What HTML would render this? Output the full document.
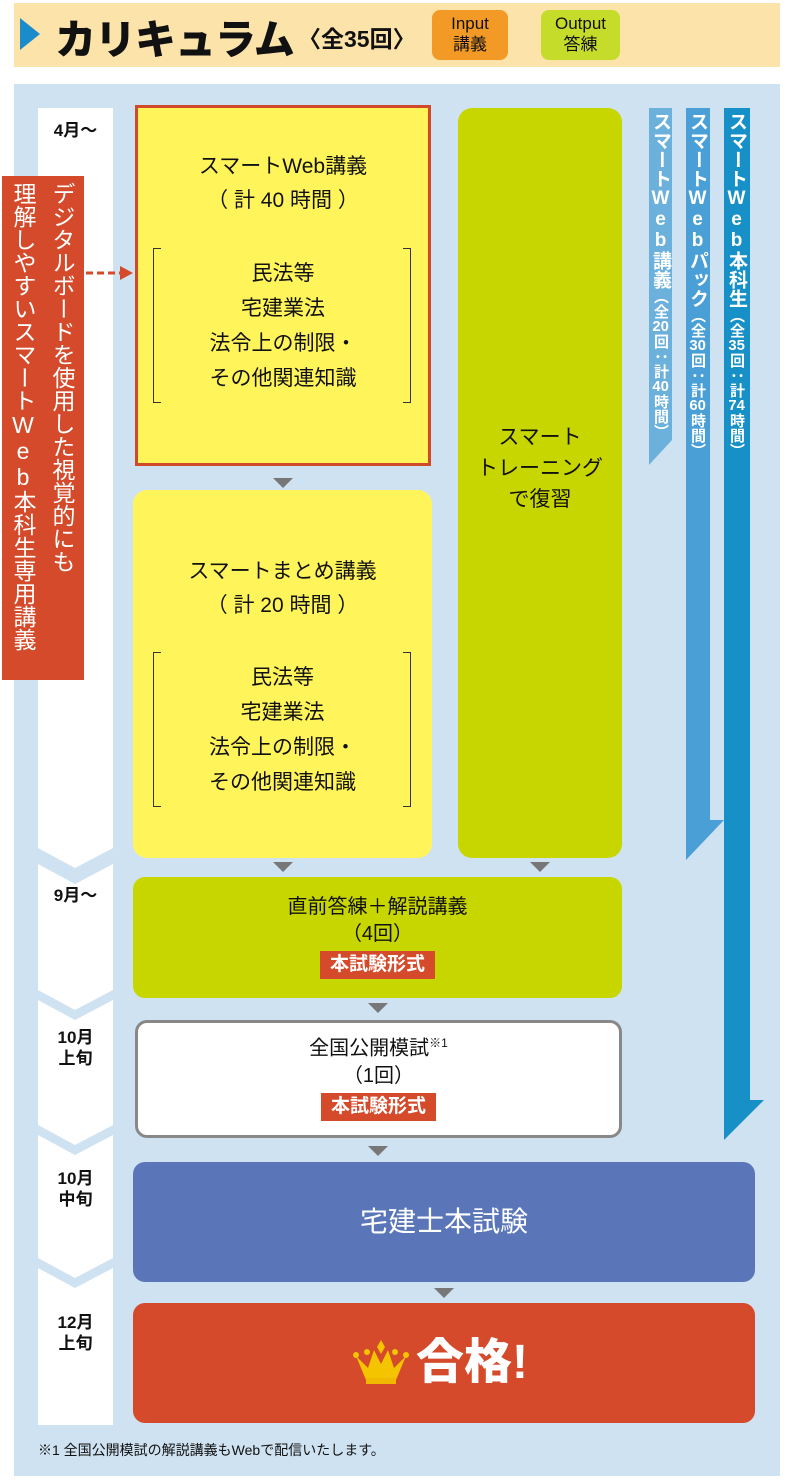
<!DOCTYPE html>
<html><head><meta charset="utf-8"><style>
*{margin:0;padding:0;box-sizing:border-box}
body{width:800px;height:1483px;background:#fff;position:relative;overflow:hidden;font-family:"Liberation Sans","Noto Sans CJK JP",sans-serif;color:#111}
.a{position:absolute}
.c{text-align:center}
.vt{writing-mode:vertical-rl;text-orientation:upright;color:#fff;white-space:nowrap}
.tc{text-combine-upright:all}
.lab{font-weight:bold;font-size:17px;text-align:center;width:75px;left:38px;line-height:21px}
.tag{background:#d44a2a;color:#fff;font-weight:bold;font-size:19px;padding:0 10px;display:inline-block;line-height:28px}
</style></head><body>
<div class="a" style="left:14px;top:3px;width:766px;height:64px;background:#fce3aa"></div>
<svg class="a" style="left:0;top:0" width="800" height="1483">
<polygon points="20,18 40,34 20,50" fill="#1a8ccc"/>
<rect x="14" y="84" width="766" height="1392" fill="#cfe2f1"/>
<polygon points="38,108 113,108 113,848 75,868 38,848" fill="#fff"/>
<polygon points="38,864 75,884 113,864 113,990 75,1010 38,990" fill="#fff"/>
<polygon points="38,1000 75,1020 113,1000 113,1125 75,1145 38,1125" fill="#fff"/>
<polygon points="38,1135 75,1155 113,1135 113,1258 75,1278 38,1258" fill="#fff"/>
<polygon points="38,1268 75,1288 113,1268 113,1425 38,1425" fill="#fff"/>
<polygon points="649,108 672,108 672,440 649,465" fill="#6cb0dc"/>
<polygon points="686,108 710,108 710,820 724,820 686,860" fill="#4aa0d6"/>
<polygon points="724,108 750,108 750,1100 764,1100 724,1140" fill="#1790c8"/>
<g fill="#777">
<polygon points="273,478 293,478 283,488"/>
<polygon points="273,862 293,862 283,872"/>
<polygon points="530,862 550,862 540,872"/>
<polygon points="368,1003 388,1003 378,1013"/>
<polygon points="368,1146 388,1146 378,1156"/>
<polygon points="434,1288 454,1288 444,1298"/>
</g>
<line x1="86" y1="273" x2="122" y2="273" stroke="#d44a2a" stroke-width="3" stroke-dasharray="7,4"/>
<polygon points="120,266 133,273 120,280" fill="#d44a2a"/>
</svg>
<div class="a" style="left:55px;top:6px;font-size:41px;font-weight:900;letter-spacing:-1px">カリキュラム</div>
<div class="a" style="left:298px;top:20px;font-size:23px;font-weight:bold">〈全35回〉</div>
<div class="a c" style="left:432px;top:10px;width:76px;height:50px;background:#f39a26;border-radius:8px;font-size:17px;line-height:21px;padding-top:3px">Input<br>講義</div>
<div class="a c" style="left:541px;top:10px;width:79px;height:50px;background:#c5dc2a;border-radius:8px;font-size:17px;line-height:21px;padding-top:3px">Output<br>答練</div>

<div class="a lab" style="top:120px">4月～</div>
<div class="a lab" style="top:885px">9月～</div>
<div class="a lab" style="top:1027px">10月<br>上旬</div>
<div class="a lab" style="top:1168px">10月<br>中旬</div>
<div class="a lab" style="top:1312px">12月<br>上旬</div>

<div class="a" style="left:2px;top:176px;width:82px;height:504px;background:#d44a2a"></div>
<div class="a vt" style="left:47px;top:182px;font-size:23px;line-height:29px;text-orientation:mixed">デジタルボードを使用した視覚的にも</div>
<div class="a vt" style="left:8px;top:182px;font-size:23px;line-height:29px">理解しやすいスマートWeb本科生専用講義</div>

<div class="a" style="left:135px;top:105px;width:296px;height:361px;background:#fff55a;border:3px solid #d04a2a"></div>
<div class="a" style="left:133px;top:490px;width:299px;height:368px;background:#fff55a;border-radius:14px"></div>
<div class="a" style="left:458px;top:108px;width:164px;height:750px;background:#c8d600;border-radius:14px"></div>

<div class="a c" style="left:135px;top:150px;width:296px;font-size:21px;line-height:34px">スマートWeb講義<br>（ 計 40 時間 ）</div>
<div class="a" style="left:153px;top:248px;width:258px;height:155px;border:1px solid #333;border-top:none;border-bottom:none"></div>
<div class="a" style="left:153px;top:248px;width:8px;height:155px;border-top:1px solid #333;border-bottom:1px solid #333"></div>
<div class="a" style="left:403px;top:248px;width:8px;height:155px;border-top:1px solid #333;border-bottom:1px solid #333"></div>
<div class="a c" style="left:135px;top:256px;width:296px;font-size:21px;line-height:35px">民法等<br>宅建業法<br>法令上の制限・<br>その他関連知識</div>

<div class="a c" style="left:133px;top:555px;width:299px;font-size:21px;line-height:34px">スマートまとめ講義<br>（ 計 20 時間 ）</div>
<div class="a" style="left:153px;top:652px;width:258px;height:155px;border:1px solid #333;border-top:none;border-bottom:none"></div>
<div class="a" style="left:153px;top:652px;width:8px;height:155px;border-top:1px solid #333;border-bottom:1px solid #333"></div>
<div class="a" style="left:403px;top:652px;width:8px;height:155px;border-top:1px solid #333;border-bottom:1px solid #333"></div>
<div class="a c" style="left:133px;top:660px;width:299px;font-size:21px;line-height:35px">民法等<br>宅建業法<br>法令上の制限・<br>その他関連知識</div>

<div class="a c" style="left:458px;top:422px;width:164px;font-size:21px;line-height:31px">スマート<br>トレーニング<br>で復習</div>

<div class="a vt" style="left:650px;top:112px;font-size:19px;font-weight:bold;line-height:21px">スマートWeb講義<span style="font-size:15px">（全<span class="tc">20</span>回：計<span class="tc">40</span>時間）</span></div>
<div class="a vt" style="left:687px;top:112px;font-size:19px;font-weight:bold;line-height:21px">スマートWebパック<span style="font-size:15px">（全<span class="tc">30</span>回：計<span class="tc">60</span>時間）</span></div>
<div class="a vt" style="left:726px;top:112px;font-size:19px;font-weight:bold;line-height:21px">スマートWeb本科生<span style="font-size:15px">（全<span class="tc">35</span>回：計<span class="tc">74</span>時間）</span></div>

<div class="a c" style="left:133px;top:877px;width:489px;height:121px;background:#c8d600;border-radius:12px;font-size:20px;line-height:27px;padding-top:17px">直前答練＋解説講義<br>（4回）<br><span class="tag" style="margin-top:3px">本試験形式</span></div>
<div class="a c" style="left:135px;top:1020px;width:487px;height:118px;background:#fff;border:3px solid #888;border-radius:12px;font-size:20px;line-height:27px;padding-top:7px">全国公開模試<sup style="font-size:12px">※1</sup><br>（1回）<br><span class="tag" style="margin-top:3px">本試験形式</span></div>
<div class="a c" style="left:133px;top:1162px;width:622px;height:120px;background:#5a76b9;border-radius:12px;color:#fff;font-size:28px;line-height:120px">宅建士本試験</div>
<div class="a" style="left:133px;top:1303px;width:622px;height:120px;background:#d44a2a;border-radius:12px"></div>
<svg class="a" style="left:352px;top:1340px" width="58" height="48"><polygon points="4,16 14,40 44,40 54,16 42,28 36,10 29,24 22,10 16,28" fill="#f5c400"/><polygon points="29,0 33,7 29,14 25,7" fill="#f5c400"/><circle cx="4" cy="15" r="3" fill="#f5c400"/><circle cx="54" cy="15" r="3" fill="#f5c400"/><circle cx="15" cy="12" r="3" fill="#f5c400"/><circle cx="43" cy="12" r="3" fill="#f5c400"/><rect x="14" y="38" width="30" height="6" fill="#f0b800"/></svg>
<div class="a" style="left:416px;top:1330px;color:#fff;font-size:48px;font-weight:900;line-height:66px">合格!</div>

<div class="a" style="left:38px;top:1440px;font-size:14px">※1 全国公開模試の解説講義もWebで配信いたします。</div>
</body></html>
